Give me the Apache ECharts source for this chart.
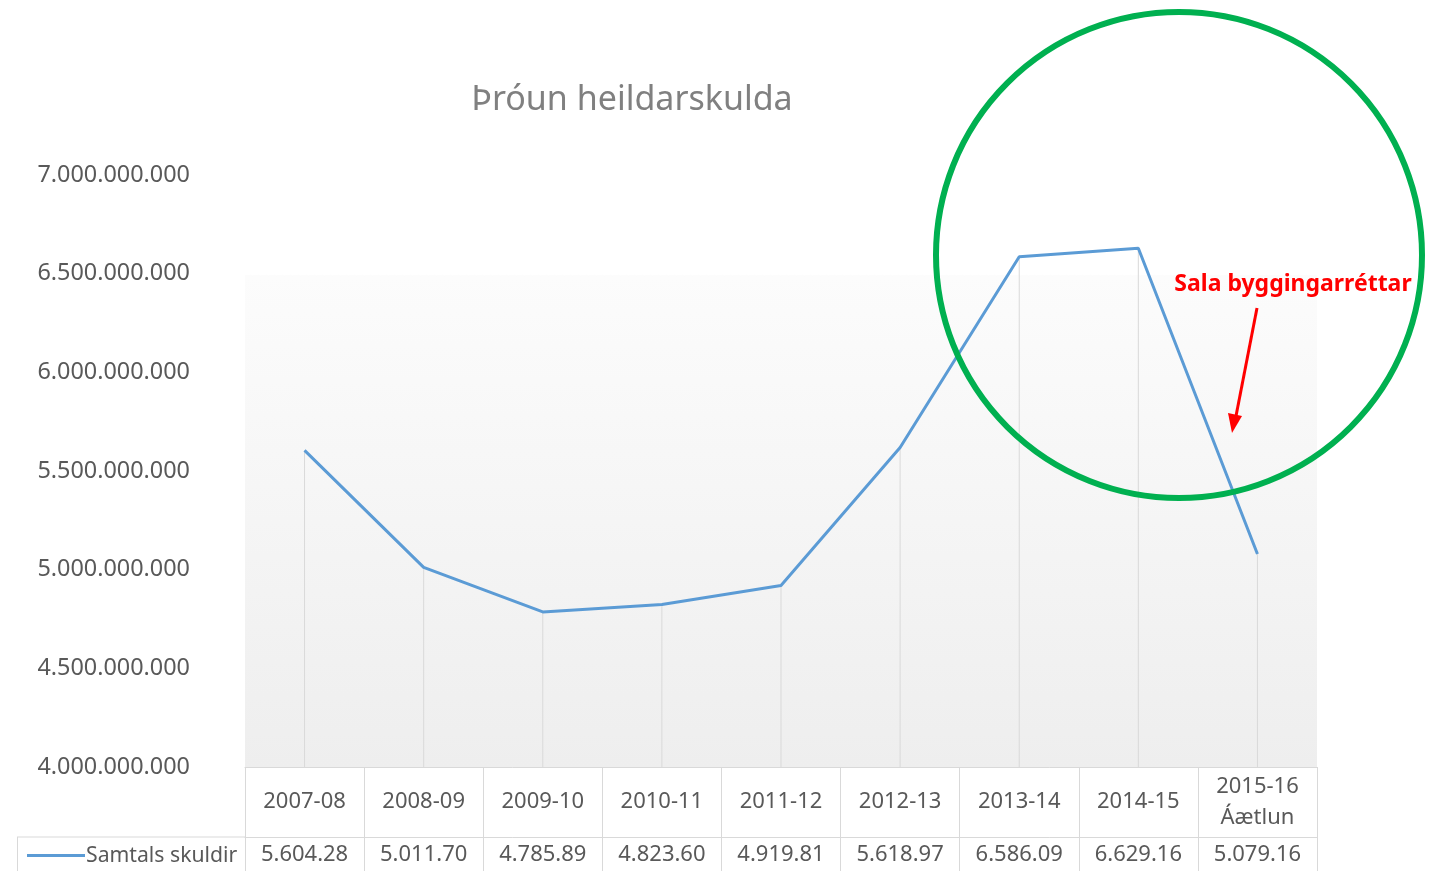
<!DOCTYPE html>
<html>
<head>
<meta charset="utf-8">
<script src="https://cdn.jsdelivr.net/npm/echarts@6/dist/echarts.min.js"></script>
<style>
html,body{margin:0;padding:0;background:#fff;}
#main{width:1432px;height:871px;}
</style>
</head>
<body>
<div id="main"></div>
<script>
const title = 'Þróun heildarskulda';
const seriesName = 'Samtals skuldir';
const categories = ['2007-08','2008-09','2009-10','2010-11','2011-12','2012-13','2013-14','2014-15','2015-16\nÁætlun'];
const values = [5604280000, 5011700000, 4785890000, 4823600000, 4919810000, 5618970000, 6586090000, 6629160000, 5079160000];
const yMin = 4000000000, yMax = 7000000000, yStep = 500000000;
const annotationText = 'Sala byggingarréttar';

const FONT = 'Noto Sans';
const TXT = '#595959';
const BORDER = '#d9d9d9';

function dots(v){ return Math.round(v).toString().replace(/\B(?=(\d{3})+(?!\d))/g, '.'); }

const chart = echarts.init(document.getElementById('main'));
chart.setOption({
  animation: false,
  backgroundColor: '#ffffff',
  textStyle: { fontFamily: FONT },
  title: {
    text: title, left: 627, top: 78, textAlign: 'center',
    textStyle: { fontFamily: FONT, fontSize: 34, fontWeight: 'normal', color: '#808080' }
  },
  legend: {
    data: [seriesName], left: 22, top: 840, icon: 'rect', itemWidth: 58, itemHeight: 3,
    textStyle: { fontFamily: FONT, fontSize: 21.2, color: TXT, padding: [0,0,0,-4] }
  },
  grid: {
    left: 245, right: 115, top: 175, bottom: 104, show: true, borderWidth: 0,
    backgroundColor: new echarts.graphic.LinearGradient(0, 0, 0, 1, [
      { offset: 0, color: '#ffffff' }, { offset: 0.168, color: '#ffffff' },
      { offset: 0.17, color: '#fcfcfc' }, { offset: 1, color: '#eeeeee' }
    ])
  },
  xAxis: [{
    type: 'category', data: categories, boundaryGap: true, position: 'bottom',
    axisLine: { show: true, lineStyle: { color: BORDER, width: 1 } },
    axisTick: { show: true, interval: 0, length: 104, lineStyle: { color: BORDER } },
    axisLabel: { interval: 0, margin: 35, verticalAlign: 'middle', fontFamily: FONT, fontSize: 22, color: TXT, lineHeight: 31 },
    splitLine: { show: false }
  }, {
    type: 'category', data: categories, boundaryGap: true, position: 'bottom', offset: 70,
    axisLine: { show: true, lineStyle: { color: BORDER, width: 1 } },
    axisTick: { show: false },
    axisLabel: { interval: 0, margin: 18, verticalAlign: 'middle', fontFamily: FONT, fontSize: 22, color: TXT,
      formatter: (v, i) => dots(values[i]).slice(0, 8) },
    splitLine: { show: false }
  }],
  yAxis: {
    type: 'value', min: yMin, max: yMax, interval: yStep,
    axisLine: { show: false }, axisTick: { show: false }, splitLine: { show: false },
    axisLabel: { margin: 55, fontFamily: FONT, fontSize: 23.4, color: TXT, formatter: v => dots(v) }
  },
  series: [{
    type: 'custom', name: 'drop', z: 1, silent: true,
    data: categories.map((c, i) => [i, values[i]]),
    renderItem: (params, api) => {
      const top = api.coord([api.value(0), api.value(1)]);
      const bot = api.coord([api.value(0), yMin]);
      return { type: 'line', shape: { x1: top[0], y1: top[1], x2: bot[0], y2: bot[1] },
        style: { stroke: BORDER, lineWidth: 1 } };
    }
  }, {
    type: 'line', name: seriesName, data: values, z: 3, symbol: 'none',
    lineStyle: { color: '#5b9bd5', width: 3 }, itemStyle: { color: '#5b9bd5' }
  }],
  graphic: [
    { type: 'line', shape: { x1: 17, y1: 837, x2: 245, y2: 837 }, style: { stroke: BORDER, lineWidth: 1 } },
    { type: 'line', shape: { x1: 17.5, y1: 837, x2: 17.5, y2: 871 }, style: { stroke: BORDER, lineWidth: 1 } },
    { type: 'circle', shape: { cx: 1179, cy: 255, r: 243 }, style: { fill: 'none', stroke: '#00b050', lineWidth: 6 }, z: 10 },
    { type: 'text', x: 1293, y: 284, z: 10, style: { text: annotationText, fill: '#ff0000', fontFamily: FONT, fontWeight: 'bold', fontSize: 23, textAlign: 'center', textVerticalAlign: 'middle' } },
    { type: 'line', shape: { x1: 1257, y1: 308, x2: 1236, y2: 416 }, style: { stroke: '#ff0000', lineWidth: 3 }, z: 10 },
    { type: 'polygon', shape: { points: [[1232, 433], [1228, 413], [1242, 416]] }, style: { fill: '#ff0000' }, z: 10 }
  ]
});
</script>
</body>
</html>
